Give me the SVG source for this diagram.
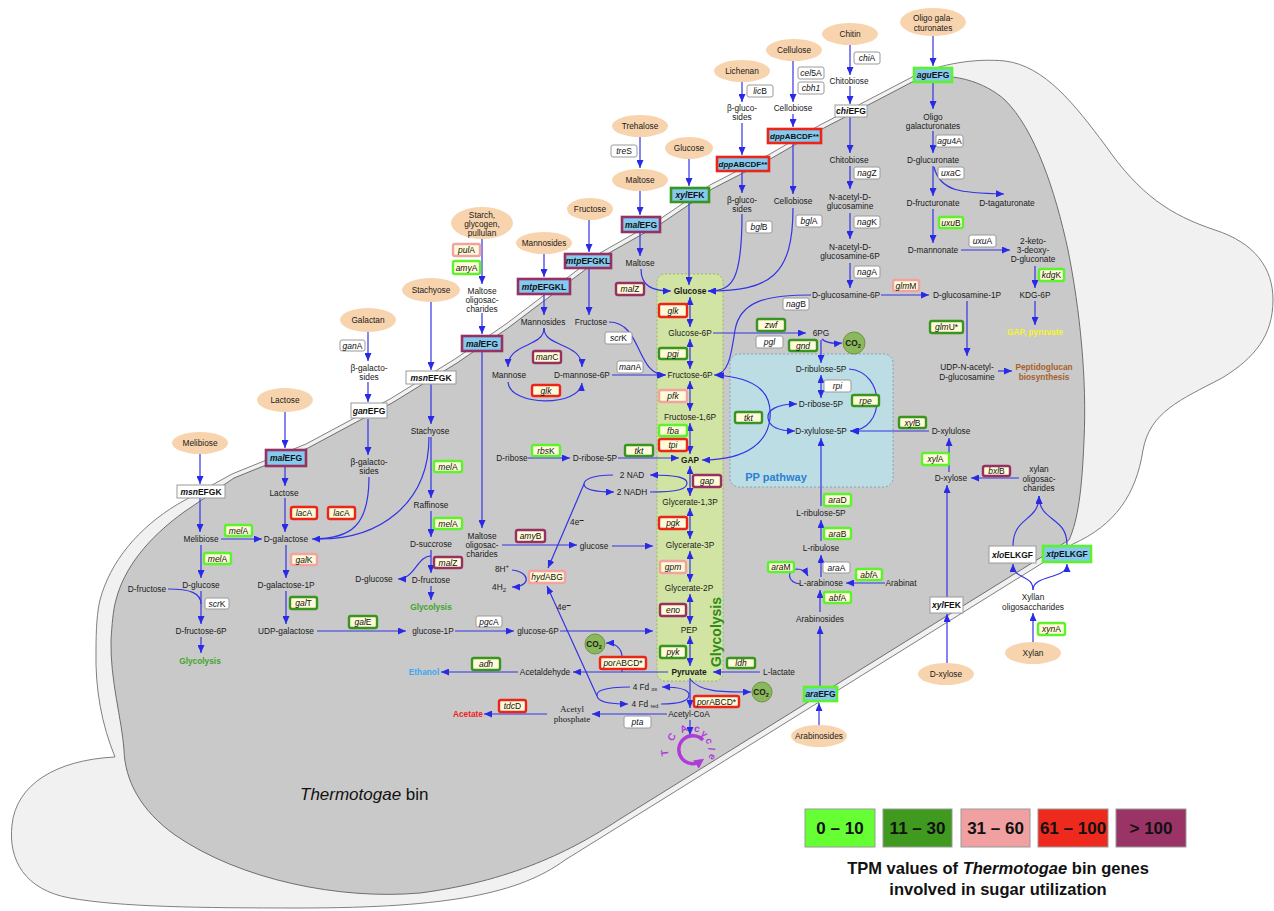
<svg xmlns="http://www.w3.org/2000/svg" width="1274" height="911" viewBox="0 0 1274 911">
<defs>
<style>
.m{font-family:"Liberation Sans",Arial,sans-serif;font-size:8.3px;fill:#1a1a1a;text-anchor:middle}
.bd{font-weight:bold}
.gl{font-weight:bold;fill:#3fa52b}
.gt{font-family:"Liberation Sans",Arial,sans-serif;font-size:8.5px;fill:#111;text-anchor:middle}
.tt{font-family:"Liberation Sans",Arial,sans-serif;font-size:8.5px;font-weight:bold;fill:#111;text-anchor:middle}
.i{font-style:italic}
.gb{fill:#fffbd8;stroke-width:2.4}
.w{fill:#fff;stroke:#9a9a9a;stroke-width:1}
.tr{fill:#84c9ee;stroke-width:2.6}
.lg{stroke:#5cf22c}
.dg{stroke:#3a9520}
.pk{stroke:#f3a2a2}
.rd{stroke:#ec2518}
.pu{stroke:#963162}
.el{fill:#f8d4ae}
.c{fill:none;stroke:#3434e4;stroke-width:1.2}
.a{marker-end:url(#ah)}
.d{marker-start:url(#ah);marker-end:url(#ah)}
.co{fill:#8cb85c;stroke:#6d9444;stroke-width:1}
.lt{font-family:"Liberation Sans",Arial,sans-serif;font-size:17px;font-weight:bold;fill:#111;text-anchor:middle}
.tca{font-family:"Liberation Sans",Arial,sans-serif;font-size:10px;font-weight:bold;fill:#b03cd8;text-anchor:middle}
</style>
<marker id="ah" viewBox="0 0 8 7" refX="8" refY="3.5" markerWidth="8" markerHeight="7" markerUnits="userSpaceOnUse" orient="auto-start-reverse"><path d="M0,0 L8,3.5 L0,7 z" fill="#2a2ae6"/></marker>
<marker id="ahp" viewBox="0 0 8 8" refX="5" refY="4" markerWidth="10" markerHeight="10" markerUnits="userSpaceOnUse" orient="auto"><path d="M0,0 L8,4 L0,8 z" fill="#b03cd8"/></marker>
</defs>
<rect x="0" y="0" width="1274" height="911" fill="#fff"/>
<g id="cell">
<path d="M100,600 C110,562 138,528 178,504 L232,474 L306,444 L390,399 L455,359 L506,324 L600,253 L660,219 L710,185 L770,154 L820,125 L870,99 L914,76 C940,64 975,58 1005,61 C1045,66 1075,105 1105,145 C1140,195 1170,215 1215,230 C1255,243 1273,268 1273,300 C1273,335 1255,358 1222,378 C1180,400 1150,412 1143,450 C1136,495 1115,525 1073,544 L565,860 C520,893 450,908 300,908 C200,908 120,907 70,898 C25,890 8,860 12,825 C16,785 55,760 115,757 C102,725 95,690 96,650 C96,630 97,612 100,600 Z" fill="#f1f1f1" stroke="#808080" stroke-width="1"/>
<path d="M116,600 C124,568 148,538 184,512 L234,478 L308,448 L392,403 L457,363 L508,328 L602,257 L662,223 L712,189 L772,158 L822,129 L872,103 L916,80 C950,70 985,82 1005,100 C1035,130 1055,190 1068,250 C1080,310 1087,380 1084,440 C1082,490 1078,520 1069,540 L620,819 C580,845 520,880 420,893 C340,900 240,880 175,835 C140,810 125,780 124,750 C122,720 110,680 111,640 C112,625 113,610 116,600 Z" fill="#c9c9c9" stroke="#6e6e6e" stroke-width="1"/>
<text x="300" y="800" font-family="Liberation Sans, Arial, sans-serif" font-size="17" fill="#111"><tspan font-style="italic">Thermotogae</tspan> bin</text>
</g>
<g id="glycolysis-box">
<rect x="657" y="274" width="66" height="407" rx="8" fill="#d2e4a3" stroke="#9ab860" stroke-width="1" stroke-dasharray="2,2"/>
<text x="0" y="0" transform="translate(721,632) rotate(-90)" font-family="Liberation Sans, Arial, sans-serif" font-size="14" font-weight="bold" fill="#2e8b1a" text-anchor="middle">Glycolysis</text>
</g>
<g id="pp-box">
<rect x="730" y="354" width="163" height="133" rx="9" fill="#bcdde3" stroke="#7aa8b8" stroke-width="1" stroke-dasharray="2,2"/>
<text x="776" y="481" font-family="Liberation Sans, Arial, sans-serif" font-size="11" font-weight="bold" fill="#2b7fd4" text-anchor="middle">PP pathway</text>
</g>
<g id="connectors">
<path class="c a" d="M200,454 L200,484"/>
<path class="c a" d="M200,498 L200,532"/>
<path class="c a" d="M221,539 L262,539"/>
<path class="c a" d="M201,545 L201,578"/>
<path class="c" d="M168,589 C190,589 201,593 201,604"/>
<path class="c a" d="M201,591 L201,624"/>
<path class="c a" d="M201,637 L201,653"/>
<path class="c a" d="M285,412 L285,448"/>
<path class="c a" d="M285,467 L285,486"/>
<path class="c a" d="M285,498 L285,532"/>
<path class="c a" d="M286,545 L286,578"/>
<path class="c a" d="M286,591 L286,624"/>
<path class="c a" d="M317,631 L406,631"/>
<path class="c a" d="M368,332 L368,361"/>
<path class="c a" d="M368,382 L368,402"/>
<path class="c a" d="M368,419 L368,455"/>
<path class="c a" d="M369,477 C369,525 352,539 312,539"/>
<path class="c" d="M429,437 C429,505 378,539 320,539"/>
<path class="c a" d="M431,302 L431,370"/>
<path class="c a" d="M431,384 L431,424"/>
<path class="c a" d="M431,437 L431,498"/>
<path class="c a" d="M431,511 L431,537"/>
<path class="c a" d="M431,550 L431,573"/>
<path class="c a" d="M431,586 L431,600"/>
<path class="c a" d="M431,556 C417,556 415,579 398,579"/>
<path class="c a" d="M455,631 L514,631"/>
<path class="c a" d="M560,631 L653,631"/>
<path class="c a" d="M482,238 L482,284"/>
<path class="c a" d="M482,313 L482,334"/>
<path class="c a" d="M482,352 L482,528"/>
<path class="c a" d="M502,545 L577,545"/>
<path class="c a" d="M612,546 L653,546"/>
<path class="c a" d="M544,254 L544,277"/>
<path class="c a" d="M544,295 L544,315"/>
<path class="c a" d="M544,328 C544,348 508,342 508,367"/>
<path class="c a" d="M544,328 C544,348 582,342 582,367"/>
<path class="c a" d="M508,382 C510,407 580,407 582,383"/>
<path class="c a" d="M612,375 L666,375"/>
<path class="c a" d="M589,220 L589,252"/>
<path class="c a" d="M589,269 L589,315"/>
<path class="c a" d="M609,322 C642,322 636,375 665,375"/>
<path class="c a" d="M640,137 L640,168"/>
<path class="c a" d="M640,191 L640,215"/>
<path class="c a" d="M640,233 L640,256"/>
<path class="c a" d="M641,269 C641,286 652,291 671,291"/>
<path class="c a" d="M689,159 L689,186"/>
<path class="c a" d="M689,203 L689,285"/>
<path class="c a" d="M742,82 L742,102"/>
<path class="c a" d="M742,123 L742,155"/>
<path class="c a" d="M742,172 L742,193"/>
<path class="c a" d="M742,214 C742,282 732,291 708,291"/>
<path class="c a" d="M793,61 L793,102"/>
<path class="c a" d="M793,114 L793,127"/>
<path class="c a" d="M793,144 L793,194"/>
<path class="c a" d="M793,208 C793,276 770,291 708,291"/>
<path class="c a" d="M850,45 L850,75"/>
<path class="c a" d="M850,86 L850,104"/>
<path class="c a" d="M850,117 L850,153"/>
<path class="c a" d="M850,166 L850,189"/>
<path class="c a" d="M850,213 L850,239"/>
<path class="c a" d="M850,263 L850,288"/>
<path class="c a" d="M881,295 L929,295"/>
<path class="c a" d="M967,301 L967,356"/>
<path class="c a" d="M998,371 L1012,371"/>
<path class="c a" d="M811,295 C762,295 740,303 735,330 C731,357 728,375 714,375"/>
<path class="c a" d="M933,36 L933,66"/>
<path class="c a" d="M933,83 L933,109"/>
<path class="c a" d="M933,131 L933,153"/>
<path class="c a" d="M933,166 L933,196"/>
<path class="c a" d="M934,167 C940,192 962,193 1004,194"/>
<path class="c a" d="M933,209 L933,243"/>
<path class="c a" d="M961,250 L1010,250"/>
<path class="c a" d="M1035,266 L1035,288"/>
<path class="c a" d="M1035,301 L1035,325"/>
<path class="c d" d="M690,297 L690,327"/>
<path class="c d" d="M690,339 L690,369"/>
<path class="c d" d="M690,381 L690,411"/>
<path class="c d" d="M690,423 L690,454"/>
<path class="c d" d="M690,466 L690,496"/>
<path class="c d" d="M690,508 L690,539"/>
<path class="c d" d="M690,551 L690,582"/>
<path class="c d" d="M690,594 L690,624"/>
<path class="c d" d="M690,636 L690,666"/>
<path class="c a" d="M690,678 L690,708"/>
<path class="c a" d="M690,720 L690,735"/>
<path class="c a" d="M713,333 L806,333"/>
<path class="c a" d="M822,339 C826,343 832,344 842,343"/>
<path class="c a" d="M821,340 L821,363"/>
<path class="c d" d="M821,375 L821,398"/>
<path class="c a" d="M849,369 C886,372 886,431 850,431"/>
<path class="c d" d="M716,375 C760,378 772,395 770,418 C768,440 750,460 702,460"/>
<path class="c d" d="M797,404 C775,404 767,411 768,418 C769,426 777,431 795,431"/>
<path class="c a" d="M929,431 L851,431"/>
<path class="c a" d="M949,472 L949,438"/>
<path class="c a" d="M1019,478 L971,478"/>
<path class="c a" d="M947,597 L947,485"/>
<path class="c a" d="M947,663 L947,614"/>
<path class="c a" d="M1033,642 L1033,613"/>
<path class="c a" d="M1033,590 C1033,574 1013,580 1013,564"/>
<path class="c a" d="M1033,590 C1033,574 1067,580 1067,564"/>
<path class="c a" d="M1013,546 C1013,516 1039,522 1039,496"/>
<path class="c a" d="M1067,545 C1067,516 1039,522 1039,496"/>
<path class="c a" d="M819,725 L819,703"/>
<path class="c a" d="M820,686 L820,626"/>
<path class="c a" d="M820,612 L820,590"/>
<path class="c a" d="M885,583 L846,583"/>
<path class="c a" d="M800,584 C787,582 786,570 797,569 C803,569 806,572 808,576"/>
<path class="c a" d="M821,577 L821,555"/>
<path class="c a" d="M821,541 L821,520"/>
<path class="c a" d="M821,506 L821,438"/>
<path class="c a" d="M760,672 L713,672"/>
<path class="c a" d="M690,679 C700,692 720,692 751,692"/>
<path class="c a" d="M668,672 L573,672"/>
<path class="c a" d="M622,672 L622,657 C622,648 615,643 606,643"/>
<path class="c a" d="M518,672 L441,672"/>
<path class="c a" d="M667,714 L592,714"/>
<path class="c a" d="M547,714 L484,714"/>
<path class="c a" d="M661,704 C681,704 689,700 689,695 C689,690 681,687 662,687"/>
<path class="c a" d="M630,687 C601,687 596,692 597,696 C598,702 608,704 628,704"/>
<path class="c a" d="M597,696 L547,586"/>
<path class="c a" d="M650,492 C679,492 687,489 687,483 C687,478 679,475 650,475"/>
<path class="c a" d="M613,475 C591,475 584,480 584,484 C584,489 593,492 614,492"/>
<path class="c a" d="M584,484 L548,568"/>
<path class="c a" d="M512,570 C531,572 531,587 512,587"/>
<path class="c a" d="M528,458 L570,458"/>
<path class="c a" d="M618,458 L679,458"/>
</g>
<g id="tca">
<path d="M703,740 A14,14 0 1 0 701,761" fill="none" stroke="#b03cd8" stroke-width="3.5" marker-end="url(#ahp)"/>
<text class="tca" transform="translate(665,753) rotate(262)" x="0" y="3">T</text>
<text class="tca" transform="translate(672,737) rotate(300)" x="0" y="3">C</text>
<text class="tca" transform="translate(684,729) rotate(337)" x="0" y="3">A</text>
<text class="tca" transform="translate(697,729) rotate(17)" x="0" y="3">c</text>
<text class="tca" transform="translate(704,734) rotate(43)" x="0" y="3">y</text>
<text class="tca" transform="translate(709,741) rotate(70)" x="0" y="3">c</text>
<text class="tca" transform="translate(711,749) rotate(96)" x="0" y="3">l</text>
<text class="tca" transform="translate(712,757) rotate(114)" x="0" y="3">e</text>
</g>
<g id="sources">
<g id="src-oligogalacturonates"><ellipse class="el" cx="933" cy="22" rx="33" ry="14"/><text class="m" x="933" y="21">Oligo gala-</text><text class="m" x="933" y="31">cturonates</text></g>
<g id="src-chitin"><ellipse class="el" cx="850" cy="34" rx="28" ry="11"/><text class="m" x="850" y="37">Chitin</text></g>
<g id="src-cellulose"><ellipse class="el" cx="794" cy="50" rx="28" ry="11"/><text class="m" x="794" y="53">Cellulose</text></g>
<g id="src-lichenan"><ellipse class="el" cx="742" cy="71" rx="28" ry="11"/><text class="m" x="742" y="74">Lichenan</text></g>
<g id="src-trehalose"><ellipse class="el" cx="640" cy="126" rx="28" ry="11"/><text class="m" x="640" y="129">Trehalose</text></g>
<g id="src-glucose"><ellipse class="el" cx="689" cy="148" rx="24" ry="11"/><text class="m" x="689" y="151">Glucose</text></g>
<g id="src-maltose"><ellipse class="el" cx="640" cy="180" rx="28" ry="11"/><text class="m" x="640" y="183">Maltose</text></g>
<g id="src-fructose"><ellipse class="el" cx="590" cy="209" rx="23" ry="11"/><text class="m" x="590" y="212">Fructose</text></g>
<g id="src-mannosides"><ellipse class="el" cx="544" cy="243" rx="28" ry="11"/><text class="m" x="544" y="246">Mannosides</text></g>
<g id="src-starch"><ellipse class="el" cx="482" cy="223" rx="31" ry="16"/><text class="m" x="482" y="218">Starch,</text><text class="m" x="482" y="227">glycogen,</text><text class="m" x="482" y="236">pullulan</text></g>
<g id="src-stachyose"><ellipse class="el" cx="431" cy="290" rx="29" ry="12"/><text class="m" x="431" y="293">Stachyose</text></g>
<g id="src-galactan"><ellipse class="el" cx="368" cy="320" rx="28" ry="12"/><text class="m" x="368" y="323">Galactan</text></g>
<g id="src-lactose"><ellipse class="el" cx="285" cy="400" rx="28" ry="12"/><text class="m" x="285" y="403">Lactose</text></g>
<g id="src-melibiose"><ellipse class="el" cx="200" cy="443" rx="28" ry="11"/><text class="m" x="200" y="446">Melibiose</text></g>
<g id="src-arabinosides"><ellipse class="el" cx="819" cy="736" rx="28" ry="11"/><text class="m" x="819" y="739">Arabinosides</text></g>
<g id="src-dxylose"><ellipse class="el" cx="946" cy="674" rx="28" ry="11"/><text class="m" x="946" y="677">D-xylose</text></g>
<g id="src-xylan"><ellipse class="el" cx="1033" cy="653" rx="28" ry="11"/><text class="m" x="1033" y="656">Xylan</text></g>
</g>
<g id="transporters">
<g id="tr-aguEFG"><rect class="tr lg" x="914" y="68" width="38" height="14"/><text class="tt" x="933" y="78"><tspan class="i">agu</tspan>EFG</text></g>
<g id="tr-chiEFG"><rect class="w" x="835" y="105" width="32" height="12"/><text class="tt" x="851" y="114"><tspan class="i">chi</tspan>EFG</text></g>
<g id="tr-dpp1"><rect class="tr rd" x="768" y="129" width="53" height="14"/><text class="tt" x="794.5" y="139" style="font-size:8px"><tspan class="i">dpp</tspan>ABCDF**</text></g>
<g id="tr-dpp2"><rect class="tr rd" x="717" y="157" width="52" height="14"/><text class="tt" x="743" y="167" style="font-size:8px"><tspan class="i">dpp</tspan>ABCDF**</text></g>
<g id="tr-xylEFK"><rect class="tr dg" x="671" y="188" width="38" height="14"/><text class="tt" x="690" y="198"><tspan class="i">xyl</tspan>EFK</text></g>
<g id="tr-malEFG-maltose"><rect class="tr pu" x="622" y="217" width="38" height="15"/><text class="tt" x="641" y="227.5"><tspan class="i">mal</tspan>EFG</text></g>
<g id="tr-mtp-fructose"><rect class="tr pu" x="565" y="254" width="46" height="14"/><text class="tt" x="588" y="264"><tspan class="i">mtp</tspan>EFGKL</text></g>
<g id="tr-mtp-mannosides"><rect class="tr pu" x="518" y="279" width="52" height="15"/><text class="tt" x="544" y="289.5"><tspan class="i">mtp</tspan>EFGKL</text></g>
<g id="tr-malEFG-starch"><rect class="tr pu" x="462" y="336" width="40" height="15"/><text class="tt" x="482" y="346.5"><tspan class="i">mal</tspan>EFG</text></g>
<g id="tr-msn-stachyose"><rect class="w" x="406" y="371" width="50" height="13"/><text class="tt" x="431" y="380.5"><tspan class="i">msn</tspan>EFGK</text></g>
<g id="tr-ganEFG"><rect class="w" x="351" y="403" width="36" height="15"/><text class="tt" x="369" y="413.5"><tspan class="i">gan</tspan>EFG</text></g>
<g id="tr-malEFG-lactose"><rect class="tr pu" x="266" y="450" width="40" height="16"/><text class="tt" x="286" y="461"><tspan class="i">mal</tspan>EFG</text></g>
<g id="tr-msn-melibiose"><rect class="w" x="177" y="485" width="48" height="13"/><text class="tt" x="201" y="494.5"><tspan class="i">msn</tspan>EFGK</text></g>
<g id="tr-araEFG"><rect class="tr lg" x="804" y="687" width="33" height="14"/><text class="tt" x="820.5" y="697"><tspan class="i">ara</tspan>EFG</text></g>
<g id="tr-xylFEK"><rect class="w" x="930" y="597" width="33" height="16"/><text class="tt" x="946.5" y="608"><tspan class="i">xyl</tspan>FEK</text></g>
<g id="tr-xloELKGF"><rect class="w" x="989" y="546" width="47" height="17"/><text class="tt" x="1012.5" y="557.5"><tspan class="i">xlo</tspan>ELKGF</text></g>
<g id="tr-xtpELKGF"><rect class="tr lg" x="1043" y="546" width="48" height="16"/><text class="tt" x="1067" y="557"><tspan class="i">xtp</tspan>ELKGF</text></g>
</g>
<g id="genes">
<g id="g-ganA"><rect class="w" x="340" y="340" width="25" height="11" rx="2"/><text class="gt" x="352.5" y="348.5"><tspan class="i">gan</tspan>A</text></g>
<g id="g-melA1"><rect class="gb lg" x="225" y="525" width="27" height="11" rx="2"/><text class="gt" x="238.5" y="533.5"><tspan class="i">mel</tspan>A</text></g>
<g id="g-melA2"><rect class="gb lg" x="204" y="553" width="27" height="11" rx="2"/><text class="gt" x="217.5" y="561.5"><tspan class="i">mel</tspan>A</text></g>
<g id="g-scrK1"><rect class="w" x="205" y="598" width="24" height="11" rx="2"/><text class="gt" x="217" y="606.5"><tspan class="i">scr</tspan>K</text></g>
<g id="g-lacA1"><rect class="gb rd" x="291" y="507" width="26" height="12" rx="2"/><text class="gt" x="304" y="516"><tspan class="i">lac</tspan>A</text></g>
<g id="g-lacA2"><rect class="gb rd" x="328" y="507" width="27" height="12" rx="2"/><text class="gt" x="341.5" y="516"><tspan class="i">lac</tspan>A</text></g>
<g id="g-galK"><rect class="gb pk" x="291" y="554" width="26" height="11" rx="2"/><text class="gt" x="304" y="562.5"><tspan class="i">gal</tspan>K</text></g>
<g id="g-galT"><rect class="gb dg" x="290" y="597" width="27" height="12" rx="2"/><text class="gt" x="303.5" y="606"><tspan class="i">gal</tspan>T</text></g>
<g id="g-galE"><rect class="gb dg" x="349" y="616" width="28" height="12" rx="2"/><text class="gt" x="363" y="625"><tspan class="i">gal</tspan>E</text></g>
<g id="g-pgcA"><rect class="w" x="476" y="616" width="26" height="11" rx="2"/><text class="gt" x="489" y="624.5"><tspan class="i">pgc</tspan>A</text></g>
<g id="g-melA3"><rect class="gb lg" x="434" y="461" width="28" height="11" rx="2"/><text class="gt" x="448" y="469.5"><tspan class="i">mel</tspan>A</text></g>
<g id="g-melA4"><rect class="gb lg" x="434" y="518" width="28" height="11" rx="2"/><text class="gt" x="448" y="526.5"><tspan class="i">mel</tspan>A</text></g>
<g id="g-malZ1"><rect class="gb pu" x="434" y="557" width="28" height="11" rx="2"/><text class="gt" x="448" y="565.5"><tspan class="i">mal</tspan>Z</text></g>
<g id="g-amyB"><rect class="gb pu" x="516" y="530" width="29" height="12" rx="2"/><text class="gt" x="530.5" y="539"><tspan class="i">amy</tspan>B</text></g>
<g id="g-hydABG"><rect class="gb pk" x="529" y="571" width="36" height="12" rx="2"/><text class="gt" x="547" y="580"><tspan class="i">hyd</tspan>ABG</text></g>
<g id="g-adh"><rect class="gb dg" x="472" y="658" width="28" height="12" rx="2"/><text class="gt i" x="486" y="667">adh</text></g>
<g id="g-tdcD"><rect class="gb rd" x="499" y="700" width="27" height="12" rx="2"/><text class="gt" x="512.5" y="709"><tspan class="i">tdc</tspan>D</text></g>
<g id="g-pta"><rect class="w" x="624" y="716" width="27" height="12" rx="2"/><text class="gt i" x="637.5" y="725">pta</text></g>
<g id="g-por1"><rect class="gb rd" x="600" y="657" width="46" height="12" rx="2"/><text class="gt" x="623" y="666"><tspan class="i">por</tspan>ABCD*</text></g>
<g id="g-por2"><rect class="gb rd" x="694" y="696" width="45" height="11" rx="2"/><text class="gt" x="716.5" y="704.5"><tspan class="i">por</tspan>ABCD*</text></g>
<g id="g-pulA"><rect class="gb pk" x="453" y="244" width="27" height="12" rx="2"/><text class="gt" x="466.5" y="253"><tspan class="i">pul</tspan>A</text></g>
<g id="g-amyA"><rect class="gb lg" x="453" y="261" width="27" height="13" rx="2"/><text class="gt" x="466.5" y="270.5"><tspan class="i">amy</tspan>A</text></g>
<g id="g-manC"><rect class="gb pu" x="533" y="351" width="28" height="12" rx="2"/><text class="gt" x="547" y="360"><tspan class="i">man</tspan>C</text></g>
<g id="g-glk1"><rect class="gb rd" x="532" y="385" width="28" height="11" rx="2"/><text class="gt i" x="546" y="393.5">glk</text></g>
<g id="g-malZ2"><rect class="gb pu" x="616" y="283" width="28" height="12" rx="2"/><text class="gt" x="630" y="292"><tspan class="i">mal</tspan>Z</text></g>
<g id="g-scrK2"><rect class="w" x="605" y="332" width="27" height="12" rx="2"/><text class="gt" x="618.5" y="341"><tspan class="i">scr</tspan>K</text></g>
<g id="g-manA"><rect class="w" x="617" y="361" width="26" height="12" rx="2"/><text class="gt" x="630" y="370"><tspan class="i">man</tspan>A</text></g>
<g id="g-rbsK"><rect class="gb lg" x="532" y="445" width="28" height="11" rx="2"/><text class="gt" x="546" y="453.5"><tspan class="i">rbs</tspan>K</text></g>
<g id="g-tkt1"><rect class="gb dg" x="625" y="445" width="28" height="11" rx="2"/><text class="gt i" x="639" y="453.5">tkt</text></g>
<g id="g-treS"><rect class="w" x="611" y="145" width="26" height="12" rx="2"/><text class="gt" x="624" y="154"><tspan class="i">tre</tspan>S</text></g>
<g id="g-licB"><rect class="w" x="747" y="85" width="26" height="12" rx="2"/><text class="gt" x="760" y="94"><tspan class="i">lic</tspan>B</text></g>
<g id="g-cel5A"><rect class="w" x="798" y="67" width="26" height="12" rx="2"/><text class="gt" x="811" y="76"><tspan class="i">cel</tspan>5A</text></g>
<g id="g-cbh1"><rect class="w" x="798" y="82" width="26" height="12" rx="2"/><text class="gt i" x="811" y="91">cbh1</text></g>
<g id="g-chiA"><rect class="w" x="854" y="52" width="26" height="12" rx="2"/><text class="gt" x="867" y="61"><tspan class="i">chi</tspan>A</text></g>
<g id="g-bglB"><rect class="w" x="746" y="221" width="26" height="12" rx="2"/><text class="gt" x="759" y="230"><tspan class="i">bgl</tspan>B</text></g>
<g id="g-bglA"><rect class="w" x="796" y="215" width="26" height="12" rx="2"/><text class="gt" x="809" y="224"><tspan class="i">bgl</tspan>A</text></g>
<g id="g-nagZ"><rect class="w" x="854" y="167" width="26" height="12" rx="2"/><text class="gt" x="867" y="176"><tspan class="i">nag</tspan>Z</text></g>
<g id="g-nagK"><rect class="w" x="854" y="216" width="26" height="12" rx="2"/><text class="gt" x="867" y="225"><tspan class="i">nag</tspan>K</text></g>
<g id="g-nagA"><rect class="w" x="854" y="266" width="26" height="12" rx="2"/><text class="gt" x="867" y="275"><tspan class="i">nag</tspan>A</text></g>
<g id="g-glmM"><rect class="gb pk" x="893" y="280" width="26" height="11" rx="2"/><text class="gt" x="906" y="288.5"><tspan class="i">glm</tspan>M</text></g>
<g id="g-agu4A"><rect class="w" x="936" y="135" width="27" height="12" rx="2"/><text class="gt" x="949.5" y="144"><tspan class="i">agu</tspan>4A</text></g>
<g id="g-uxaC"><rect class="w" x="938" y="167" width="26" height="12" rx="2"/><text class="gt" x="951" y="176"><tspan class="i">uxa</tspan>C</text></g>
<g id="g-uxuB"><rect class="gb lg" x="939" y="217" width="24" height="11" rx="2"/><text class="gt" x="951" y="225.5"><tspan class="i">uxu</tspan>B</text></g>
<g id="g-uxuA"><rect class="w" x="969" y="235" width="27" height="12" rx="2"/><text class="gt" x="982.5" y="244"><tspan class="i">uxu</tspan>A</text></g>
<g id="g-kdgK"><rect class="gb lg" x="1039" y="269" width="25" height="12" rx="2"/><text class="gt" x="1051.5" y="278"><tspan class="i">kdg</tspan>K</text></g>
<g id="g-glmU"><rect class="gb dg" x="930" y="321" width="33" height="12" rx="2"/><text class="gt" x="946.5" y="330"><tspan class="i">glm</tspan>U*</text></g>
<g id="g-nagB"><rect class="w" x="783" y="298" width="26" height="12" rx="2"/><text class="gt" x="796" y="307"><tspan class="i">nag</tspan>B</text></g>
<g id="g-zwf"><rect class="gb dg" x="757" y="319" width="28" height="12" rx="2"/><text class="gt i" x="771" y="328">zwf</text></g>
<g id="g-pgl"><rect class="w" x="756" y="336" width="27" height="12" rx="2"/><text class="gt i" x="769.5" y="345">pgl</text></g>
<g id="g-gnd"><rect class="gb dg" x="789" y="340" width="28" height="11" rx="2"/><text class="gt i" x="803" y="348.5">gnd</text></g>
<g id="g-rpi"><rect class="w" x="824" y="380" width="27" height="12" rx="2"/><text class="gt i" x="837.5" y="389">rpi</text></g>
<g id="g-rpe"><rect class="gb dg" x="852" y="395" width="27" height="11" rx="2"/><text class="gt i" x="865.5" y="403.5">rpe</text></g>
<g id="g-tkt2"><rect class="gb dg" x="735" y="412" width="27" height="11" rx="2"/><text class="gt i" x="748.5" y="420.5">tkt</text></g>
<g id="g-xylB"><rect class="gb dg" x="899" y="417" width="27" height="11" rx="2"/><text class="gt" x="912.5" y="425.5"><tspan class="i">xyl</tspan>B</text></g>
<g id="g-xylA"><rect class="gb lg" x="922" y="453" width="27" height="12" rx="2"/><text class="gt" x="935.5" y="462"><tspan class="i">xyl</tspan>A</text></g>
<g id="g-bxlB"><rect class="gb pu" x="983" y="466" width="27" height="10" rx="2"/><text class="gt" x="996.5" y="474"><tspan class="i">bxl</tspan>B</text></g>
<g id="g-araD"><rect class="gb lg" x="824" y="494" width="27" height="12" rx="2"/><text class="gt" x="837.5" y="503"><tspan class="i">ara</tspan>D</text></g>
<g id="g-araB"><rect class="gb lg" x="824" y="528" width="27" height="11" rx="2"/><text class="gt" x="837.5" y="536.5"><tspan class="i">ara</tspan>B</text></g>
<g id="g-araM"><rect class="gb lg" x="768" y="562" width="26" height="10" rx="2"/><text class="gt" x="781" y="570"><tspan class="i">ara</tspan>M</text></g>
<g id="g-araA"><rect class="w" x="823" y="562" width="27" height="11" rx="2"/><text class="gt" x="836.5" y="570.5"><tspan class="i">ara</tspan>A</text></g>
<g id="g-abfA1"><rect class="gb lg" x="856" y="569" width="26" height="11" rx="2"/><text class="gt" x="869" y="577.5"><tspan class="i">abf</tspan>A</text></g>
<g id="g-abfA2"><rect class="gb lg" x="824" y="592" width="27" height="11" rx="2"/><text class="gt" x="837.5" y="600.5"><tspan class="i">abf</tspan>A</text></g>
<g id="g-ldh"><rect class="gb dg" x="727" y="658" width="28" height="10" rx="2"/><text class="gt i" x="741" y="666">ldh</text></g>
<g id="g-xynA"><rect class="gb lg" x="1038" y="623" width="27" height="12" rx="2"/><text class="gt" x="1051.5" y="632"><tspan class="i">xyn</tspan>A</text></g>
<g id="g-glk2"><rect class="gb rd" x="659" y="304" width="28" height="13" rx="2"/><text class="gt i" x="673" y="313.5">glk</text></g>
<g id="g-pgi"><rect class="gb dg" x="659" y="348" width="28" height="11" rx="2"/><text class="gt i" x="673" y="356.5">pgi</text></g>
<g id="g-pfk"><rect class="gb pk" x="659" y="390" width="28" height="12" rx="2"/><text class="gt i" x="673" y="399">pfk</text></g>
<g id="g-fba"><rect class="gb lg" x="659" y="425" width="28" height="11" rx="2"/><text class="gt i" x="673" y="433.5">fba</text></g>
<g id="g-tpi"><rect class="gb rd" x="659" y="439" width="28" height="12" rx="2"/><text class="gt i" x="673" y="448">tpi</text></g>
<g id="g-gap"><rect class="gb pu" x="693" y="475" width="28" height="12" rx="2"/><text class="gt i" x="707" y="484">gap</text></g>
<g id="g-pgk"><rect class="gb rd" x="659" y="517" width="28" height="12" rx="2"/><text class="gt i" x="673" y="526">pgk</text></g>
<g id="g-gpm"><rect class="gb pk" x="660" y="561" width="26" height="12" rx="2"/><text class="gt i" x="673" y="570">gpm</text></g>
<g id="g-eno"><rect class="gb pu" x="660" y="604" width="26" height="12" rx="2"/><text class="gt i" x="673" y="613">eno</text></g>
<g id="g-pyk"><rect class="gb dg" x="660" y="646" width="26" height="12" rx="2"/><text class="gt i" x="673" y="655">pyk</text></g>
</g>
<g id="metabolites">
<text class="m" x="201" y="542">Melibiose</text>
<text class="m" x="286" y="542">D-galactose</text>
<text class="m" x="201" y="588">D-glucose</text>
<text class="m" x="147" y="592">D-fructose</text>
<text class="m" x="201" y="634">D-fructose-6P</text>
<text class="m gl" x="200" y="664">Glycolysis</text>
<text class="m" x="284" y="496">Lactose</text>
<text class="m" x="286" y="588">D-galactose-1P</text>
<text class="m" x="286" y="634">UDP-galactose</text>
<text class="m" x="433" y="634">glucose-1P</text>
<text class="m" x="538" y="634">glucose-6P</text>
<text class="m" x="369" y="371">β-galacto-</text><text class="m" x="369" y="380">sides</text>
<text class="m" x="369" y="465">β-galacto-</text><text class="m" x="369" y="474">sides</text>
<text class="m" x="430" y="434">Stachyose</text>
<text class="m" x="431" y="508">Raffinose</text>
<text class="m" x="431" y="547">D-succrose</text>
<text class="m" x="431" y="583">D-fructose</text>
<text class="m gl" x="431" y="610">Glycolysis</text>
<text class="m" x="374" y="582">D-glucose</text>
<text class="m" x="482" y="294">Maltose</text><text class="m" x="482" y="303">oligosac-</text><text class="m" x="482" y="312">charides</text>
<text class="m" x="482" y="539">Maltose</text><text class="m" x="482" y="548">oligosac-</text><text class="m" x="482" y="557">charides</text>
<text class="m" x="594" y="549">glucose</text>
<text class="m" x="543" y="325">Mannosides</text>
<text class="m" x="591" y="325">Fructose</text>
<text class="m" x="509" y="378">Mannose</text>
<text class="m" x="582" y="378">D-mannose-6P</text>
<text class="m" x="512" y="461">D-ribose</text>
<text class="m" x="595" y="461">D-ribose-5P</text>
<text class="m" x="632" y="478">2 NAD</text>
<text class="m" x="632" y="495">2 NADH</text>
<text class="m" x="577" y="525">4e<tspan font-weight="bold" dy="-2">–</tspan></text>
<text class="m" x="502" y="572">8H<tspan font-size="6" dy="-4">+</tspan></text>
<text class="m" x="499" y="590">4H<tspan font-size="6" dy="2">2</tspan></text>
<text class="m" x="564" y="610">4e<tspan font-weight="bold" dy="-2">–</tspan></text>
<text class="m bd" x="424" y="675" style="fill:#3aa8f0">Ethanol</text>
<text class="m" x="545" y="675">Acetaldehyde</text>
<text class="m bd" x="468" y="717" style="fill:#ee2222">Acetate</text>
<text class="m" x="572" y="712" style="font-family:'Liberation Serif','Times New Roman',serif;font-size:9px">Acetyl</text>
<text class="m" x="572" y="722" style="font-family:'Liberation Serif','Times New Roman',serif;font-size:9px">phosphate</text>
<text class="m" x="645" y="690">4 Fd <tspan font-size="5.5" dy="1">ox</tspan></text>
<text class="m" x="645" y="707">4 Fd <tspan font-size="5.5" dy="1">red</tspan></text>
<text class="m" x="689" y="717">Acetyl-CoA</text>
<text class="m" x="640" y="266">Maltose</text>
<text class="m" x="742" y="111">β-gluco-</text><text class="m" x="742" y="120">sides</text>
<text class="m" x="793" y="111">Cellobiose</text>
<text class="m" x="742" y="203">β-gluco-</text><text class="m" x="742" y="212">sides</text>
<text class="m" x="793" y="204">Cellobiose</text>
<text class="m" x="849" y="84">Chitobiose</text>
<text class="m" x="849" y="163">Chitobiose</text>
<text class="m" x="850" y="200">N-acetyl-D-</text><text class="m" x="850" y="209">glucosamine</text>
<text class="m" x="850" y="250">N-acetyl-D-</text><text class="m" x="850" y="259">glucosamine-6P</text>
<text class="m" x="846" y="298">D-glucosamine-6P</text>
<text class="m" x="967" y="298">D-glucosamine-1P</text>
<text class="m" x="967" y="370">UDP-N-acetyl-</text><text class="m" x="967" y="380">D-glucosamine</text>
<text class="m bd" x="1044" y="370" style="fill:#a8602a">Peptidoglucan</text><text class="m bd" x="1044" y="380" style="fill:#a8602a">biosynthesis</text>
<text class="m" x="933" y="120">Oligo</text><text class="m" x="933" y="129">galacturonates</text>
<text class="m" x="933" y="163">D-glucuronate</text>
<text class="m" x="933" y="206">D-fructuronate</text>
<text class="m" x="1007" y="206">D-tagaturonate</text>
<text class="m" x="933" y="253">D-mannonate</text>
<text class="m" x="1033" y="244">2-keto-</text><text class="m" x="1033" y="253">3-deoxy-</text><text class="m" x="1033" y="262">D-gluconate</text>
<text class="m" x="1035" y="298">KDG-6P</text>
<text class="m bd" x="1035" y="335" style="fill:#f6f62a">GAP, pyruvate</text>
<text class="m bd" x="690" y="294">Glucose</text>
<text class="m" x="690" y="336">Glucose-6P</text>
<text class="m" x="690" y="378">Fructose-6P</text>
<text class="m" x="690" y="420">Fructose-1,6P</text>
<text class="m bd" x="690" y="463">GAP</text>
<text class="m" x="690" y="505">Glycerate-1,3P</text>
<text class="m" x="690" y="548">Glycerate-3P</text>
<text class="m" x="689" y="591">Glycerate-2P</text>
<text class="m" x="689" y="633">PEP</text>
<text class="m bd" x="689" y="675">Pyruvate</text>
<text class="m" x="821" y="336">6PG</text>
<text class="m" x="821" y="372">D-ribulose-5P</text>
<text class="m" x="821" y="407">D-ribose-5P</text>
<text class="m" x="821" y="434">D-xylulose-5P</text>
<text class="m" x="951" y="434">D-xylulose</text>
<text class="m" x="951" y="481">D-xylose</text>
<text class="m" x="1039" y="472">xylan</text><text class="m" x="1039" y="482">oligosac-</text><text class="m" x="1039" y="491">charides</text>
<text class="m" x="821" y="516">L-ribulose-5P</text>
<text class="m" x="821" y="551">L-ribulose</text>
<text class="m" x="821" y="586">L-arabinose</text>
<text class="m" x="901" y="586">Arabinat</text>
<text class="m" x="820" y="622">Arabinosides</text>
<text class="m" x="779" y="675">L-lactate</text>
<text class="m" x="1033" y="600">Xyllan</text><text class="m" x="1033" y="610">oligosaccharides</text>
</g>
<g id="co2">
<g id="co2-1"><circle class="co" cx="854" cy="343" r="11"/><text class="m bd" x="853" y="346">CO<tspan font-size="5.5" dy="2">2</tspan></text></g>
<g id="co2-2"><circle class="co" cx="595" cy="644" r="10"/><text class="m bd" x="594" y="647">CO<tspan font-size="5.5" dy="2">2</tspan></text></g>
<g id="co2-3"><circle class="co" cx="762" cy="692" r="10"/><text class="m bd" x="761" y="695">CO<tspan font-size="5.5" dy="2">2</tspan></text></g>
</g>
<g id="legend">
<rect x="805" y="809" width="70" height="38" fill="#66ff33" stroke="#999"/>
<rect x="883" y="809" width="69" height="38" fill="#3f9a1f" stroke="#999"/>
<rect x="961" y="809" width="69" height="38" fill="#f0a0a0" stroke="#999"/>
<rect x="1038" y="809" width="70" height="38" fill="#ee2a1e" stroke="#999"/>
<rect x="1116" y="809" width="70" height="38" fill="#9a3366" stroke="#999"/>
<text class="lt" x="840" y="834">0 – 10</text>
<text class="lt" x="917.5" y="834">11 – 30</text>
<text class="lt" x="995.5" y="834">31 – 60</text>
<text class="lt" x="1073" y="834">61 – 100</text>
<text class="lt" x="1151" y="834">&gt; 100</text>
<text class="lt" x="998" y="874" style="font-size:16.5px">TPM values of <tspan font-style="italic">Thermotogae</tspan> bin genes</text>
<text class="lt" x="998" y="895" style="font-size:16.5px">involved in sugar utilization</text>
</g>
</svg>
